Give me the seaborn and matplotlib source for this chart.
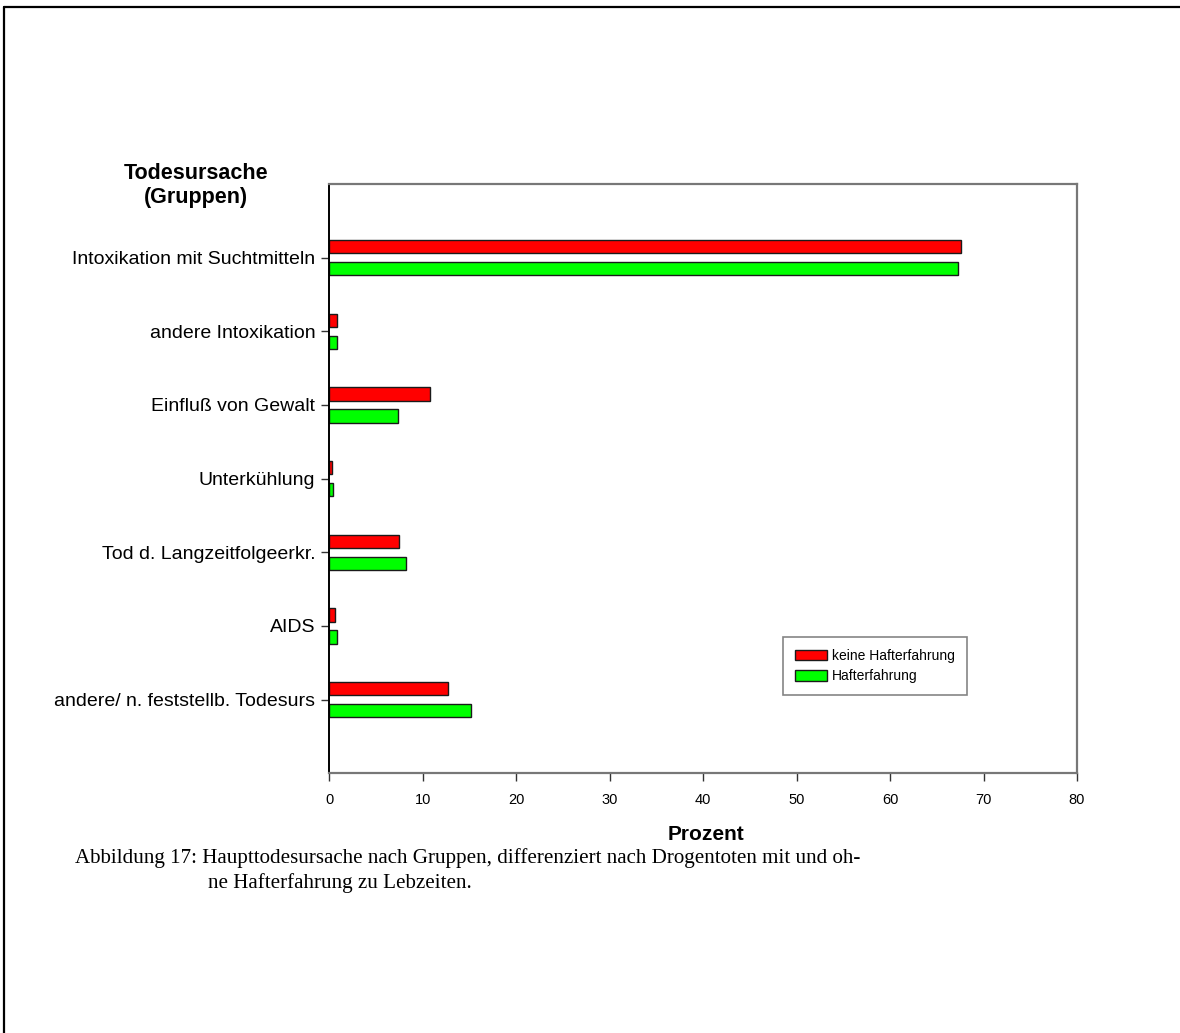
import matplotlib
matplotlib.use("Agg")
import matplotlib.pyplot as plt
from matplotlib.lines import Line2D
import seaborn as sns
import pandas as pd

# Causes of death (groups) and percentages per group
categories = [
    "Intoxikation mit Suchtmitteln",
    "andere Intoxikation",
    "Einfluß von Gewalt",
    "Unterkühlung",
    "Tod d. Langzeitfolgeerkr.",
    "AIDS",
    "andere/ n. feststellb. Todesurs",
]
series_names = ["keine Hafterfahrung", "Hafterfahrung"]
keine_hafterfahrung = [67.6, 0.8, 10.8, 0.25, 7.5, 0.6, 12.7]
hafterfahrung = [67.3, 0.8, 7.3, 0.4, 8.2, 0.8, 15.2]
x_ticks = [0, 10, 20, 30, 40, 50, 60, 70, 80]
colors = ["#FF0000", "#00FF00"]

df = pd.DataFrame({
    "Todesursache": categories * 2,
    "Prozent": keine_hafterfahrung + hafterfahrung,
    "Gruppe": [series_names[0]] * len(categories) + [series_names[1]] * len(categories),
})

sns.set_style("white")
plt.rcParams["font.family"] = ["Liberation Sans", "DejaVu Sans"]
plt.rcParams["text.color"] = "black"
plt.rcParams["axes.labelcolor"] = "black"
plt.rcParams["xtick.color"] = "black"
plt.rcParams["ytick.color"] = "black"

fig = plt.figure(figsize=(11.8, 10.33), dpi=100)
ax = fig.add_axes([0.2791, 0.2514, 0.6336, 0.5705])

sns.barplot(
    data=df, y="Todesursache", x="Prozent", hue="Gruppe",
    order=categories, hue_order=series_names, palette=colors,
    orient="h", width=0.6, gap=0.4, edgecolor="#1a1a1a", linewidth=1.0,
    saturation=1, ax=ax, legend=True,
)

ax.set_xlim(0, 80)
ax.set_ylim(7.0, -1.0)
ax.set_xticks(x_ticks)
ax.set_xticklabels([str(t) for t in x_ticks], fontsize=10.5)
ax.set_yticks(range(len(categories)))
ax.set_yticklabels(categories, fontsize=14)
ax.set_xlabel("")
ax.set_ylabel("")
ax.tick_params(axis="y", left=True, length=6, width=1, color="#333333", pad=4,
               labelcolor="black")
ax.tick_params(axis="x", bottom=True, length=6, width=1, color="#333333", pad=8,
               labelcolor="black")

for side in ["top", "right", "bottom"]:
    ax.spines[side].set_visible(True)
    ax.spines[side].set_color("#777777")
    ax.spines[side].set_linewidth(1.6)
ax.spines["left"].set_color("black")
ax.spines["left"].set_linewidth(1.4)

leg = ax.legend(
    loc="upper left", bbox_to_anchor=(0.6068, 0.2313),
    fontsize=10, frameon=True, fancybox=False,
    handlelength=2.3, handleheight=0.8, borderpad=0.85, labelspacing=0.45,
    handletextpad=0.4, borderaxespad=0.0,
)
leg.get_frame().set_edgecolor("#666666")
leg.get_frame().set_linewidth(1.2)
for t in leg.get_texts():
    t.set_color("black")

fig.text(0.166, 0.832, "Todesursache", fontsize=15.5, fontweight="bold",
         ha="center", va="center")
fig.text(0.166, 0.809, "(Gruppen)", fontsize=15.5, fontweight="bold",
         ha="center", va="center")
fig.text(0.598, 0.1917, "Prozent", fontsize=15, fontweight="bold",
         ha="center", va="center")

serif = ["Liberation Serif", "DejaVu Serif"]
fig.text(0.0636, 0.1694,
         "Abbildung 17: Haupttodesursache nach Gruppen, differenziert nach Drogentoten mit und oh-",
         fontsize=15.1, family=serif, ha="left", va="center")
fig.text(0.1763, 0.1452, "ne Hafterfahrung zu Lebzeiten.",
         fontsize=15.1, family=serif, ha="left", va="center")

# Page frame: top and left rules
fig.add_artist(Line2D([4 / 1180, 1.0], [1 - 7 / 1033] * 2, transform=fig.transFigure,
                      color="black", linewidth=1.6))
fig.add_artist(Line2D([4 / 1180] * 2, [0.0, 1 - 7 / 1033], transform=fig.transFigure,
                      color="black", linewidth=1.6))

fig.savefig("out.png", dpi=100, facecolor="white")
